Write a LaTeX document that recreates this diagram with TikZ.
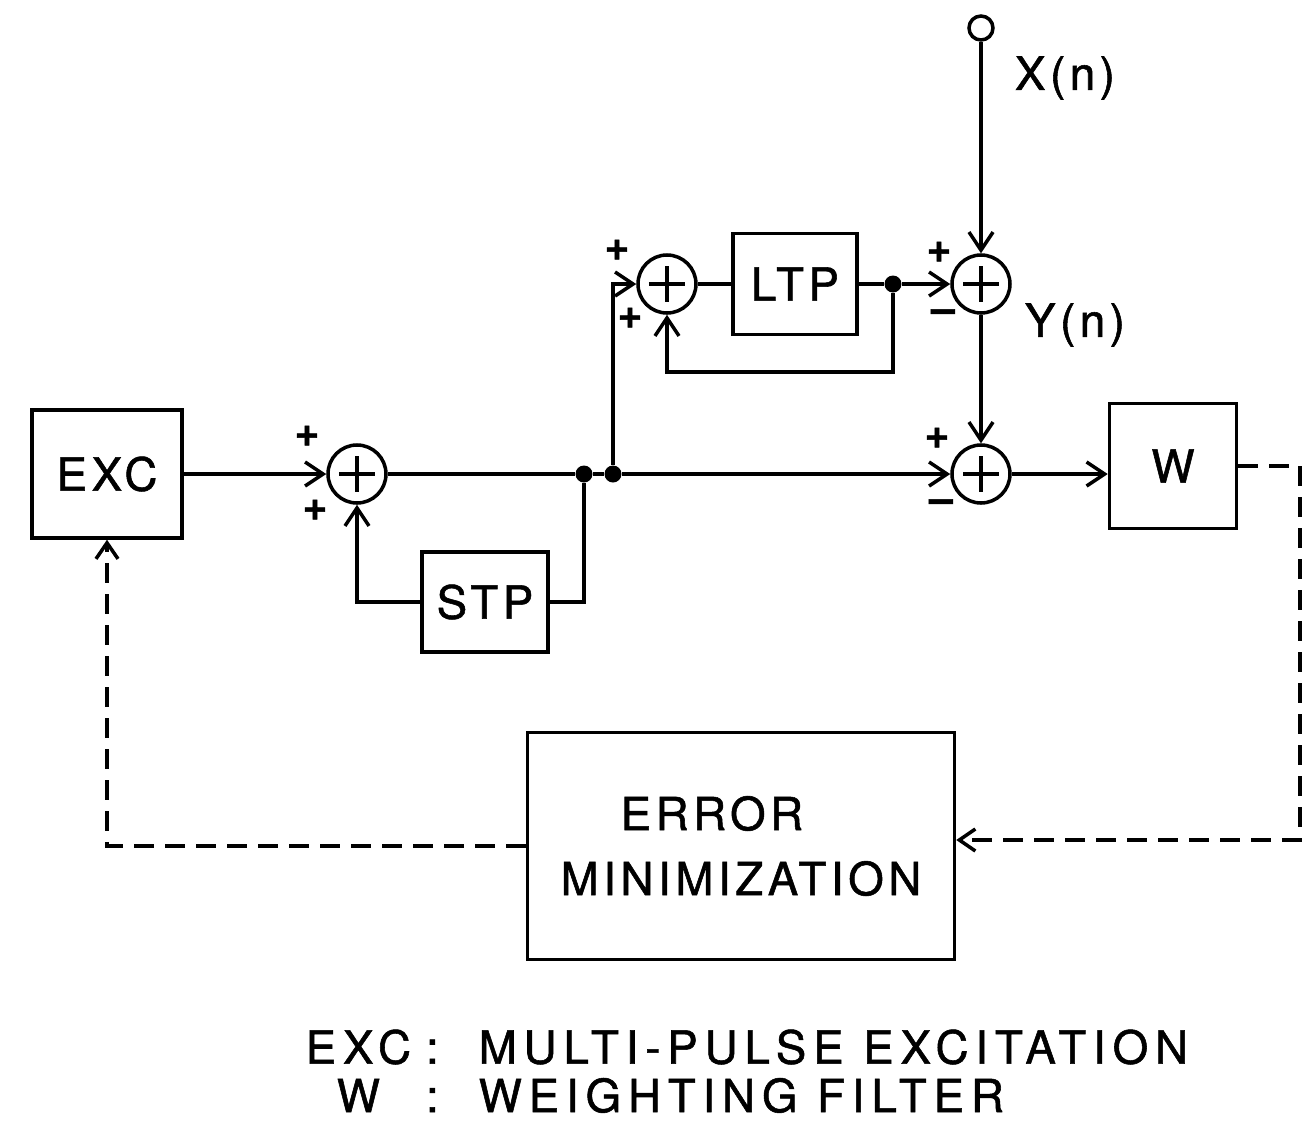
\documentclass[tikz,border=0pt]{standalone}
\usepackage{fontspec}
\setmainfont{TeX Gyre Heros}[LetterSpace=10, FakeBold=1.2]
\newfontfamily\legendfont{TeX Gyre Heros}[LetterSpace=15, FakeBold=1.2]
\usetikzlibrary{arrows.meta, positioning, calc}
\tikzset{
    block/.style    ={rectangle, draw=black, line width=1pt, minimum width=12.6mm, minimum height=10mm, text centered, align=center, inner sep=0pt},
    sumnode/.style  ={circle, draw=black, line width=1pt, minimum size=5.8mm, inner sep=0pt},
    junction/.style ={circle, fill=black, minimum size=1.7mm, inner sep=0pt},
    terminal/.style ={circle, draw=black, line width=1pt, minimum size=2.4mm, inner sep=0pt},
    sign/.style     ={font=\fontsize{12}{12}\selectfont\bfseries, inner sep=0pt},
    flowline/.style ={line width=1pt},
    flowarrow/.style={-{Straight Barb[length=1.8mm, width=2.4mm]}, line width=1pt},
    dashflow/.style ={-{Straight Barb[length=1.6mm, width=2.2mm]}, line width=1pt, dash pattern=on 2mm off 1.1mm},
}
\begin{document}
\begin{tikzpicture}[x=0.1mm, y=-0.1mm, font=\fontsize{13}{18.5}\selectfont]
                \useasboundingbox (0,0) rectangle (1305,1130);
                % main row
                \node[block, minimum width=15mm, minimum height=12.8mm] (exc) at (107,474) {EXC};
                \node[sumnode] (sum1) at (357,474) {};
                \node[block] (stp) at (485,602) {STP};
                \node[junction] (dot1) at (584,474) {};
                \node[junction] (dot2) at (613,474) {};
                \node[sumnode] (sum4) at (981,474) {};
                \node[block, minimum width=12.7mm, minimum height=12.5mm] (wf) at (1173,466) {W};
                % upper row
                \node[sumnode] (sum2) at (667,284) {};
                \node[block, minimum width=12.4mm, minimum height=10.1mm] (ltp) at (795,284) {LTP};
                \node[junction] (dot3) at (893,284) {};
                \node[sumnode] (sum3) at (981,284) {};
                \node[terminal] (xin) at (981,28) {};
                \node (xlab) at (1065,78) {X(n)};
                \node (ylab) at (1075,325) {Y(n)};
                \node[block, minimum width=42.7mm, minimum height=22.7mm, align=left] (err) at (741,846) {\hspace{6mm}ERROR\\MINIMIZATION};
                % plus inside the summing points
                \foreach \s in {sum1,sum2,sum3,sum4}
                    \draw[flowline] (\s.center) ++(-18,0) -- ++(36,0) (\s.center) ++(0,-18) -- ++(0,36);
                % signs
                \node[sign] (s1a) at ($(sum1)+(-50,-38)$) {+};
                \node[sign] (s1b) at ($(sum1)+(-42,36)$) {+};
                \node[sign] (s2a) at ($(sum2)+(-50,-34)$) {+};
                \node[sign] (s2b) at ($(sum2)+(-37,34)$) {+};
                \node[sign] (s3a) at ($(sum3)+(-42,-32)$) {+};
                \node[sign] (s3b) at ($(sum3)+(-38,32)$) {--};
                \node[sign] (s4a) at ($(sum4)+(-44,-36)$) {+};
                \node[sign] (s4b) at ($(sum4)+(-40,32)$) {--};
                % connectors
                \draw[flowarrow](exc)--(sum1);
                \draw[flowline](sum1)--(dot1);
                \draw[flowline](dot1)--(dot2);
                \draw[flowarrow](dot2)--(sum4);
                \draw[flowline](dot1)|-(stp);
                \draw[flowarrow](stp)-|(sum1);
                \draw[flowarrow](dot2)|-(sum2);
                \draw[flowline](sum2)--(ltp);
                \draw[flowline](ltp)--(dot3);
                \draw[flowarrow](dot3)--(sum3);
                \draw[flowarrow](dot3)--++(0,88)-|(sum2);
                \draw[flowarrow](xin)--(sum3);
                \draw[flowarrow](sum3)--(sum4);
                \draw[flowarrow](sum4)--(sum4 -| wf.west);
                \coordinate (cR) at (1300,840);
                \draw[dashflow](wf)-|(cR)--(cR -| err.east);
                \draw[dashflow](err)-|(exc);
                % legend
                \node[anchor=west, inner sep=0pt] (legend) at (305,1078) {\legendfont\fontsize{13}{13.6}\selectfont
                    \begin{tabular}{@{}c@{\hspace{1.5mm}}c@{\hspace{4mm}}l@{}}
                    EXC & : & MULTI-PULSE EXCITATION\\
                    W   & : & WEIGHTING FILTER
                    \end{tabular}};
            \end{tikzpicture}
\end{document}
